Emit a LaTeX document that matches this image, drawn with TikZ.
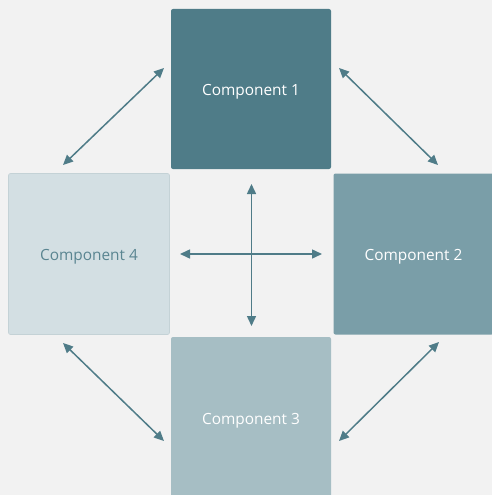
\documentclass[tikz,border=0pt]{standalone}
\usepackage{fontspec}
\setmainfont{Open Sans}
\usetikzlibrary{arrows.meta}
\definecolor{bg}{HTML}{F2F2F2}
\definecolor{cA}{HTML}{4F7C88}
\definecolor{cB}{HTML}{7A9EA8}
\definecolor{cC}{HTML}{A6BEC4}
\definecolor{cD}{HTML}{D3DFE3}
\definecolor{cDb}{HTML}{C4D2D6}
\definecolor{tD}{HTML}{5A8591}
\definecolor{arr}{HTML}{4F7C88}
\begin{document}
\begin{tikzpicture}[x=1pt,y=-1pt,
  comp/.style={rectangle,rounded corners=2pt,minimum width=160pt,minimum height=160pt,inner sep=0pt},
  lbl/.style={inner sep=0pt,font=\fontsize{15.4}{18}\selectfont,text=white},
  link/.style={draw=arr,line width=1.5pt,{Triangle[length=10pt,width=9pt]}-{Triangle[length=10pt,width=9pt]}}]
\useasboundingbox (0,0) rectangle (492,495);
\fill[bg] (0,0) rectangle (492,495);
\begin{scope}
\clip (0,0) rectangle (492,495);
\node[comp,fill=cA] (c1) at (251,89) {};
\node[comp,fill=cB,minimum width=160pt,minimum height=161pt] (c2) at (413.5,254) {};
\node[comp,fill=cC] (c3) at (251,417) {};
\node[comp,fill=cD,draw=cDb,line width=0.6pt,minimum width=161pt,minimum height=161pt] (c4) at (89,254) {};
\end{scope}
\node[lbl] (t1) at (251,91.5) {Component 1};
\node[lbl] (t2) at (413.5,256.5) {Component 2};
\node[lbl] (t3) at (251,420.5) {Component 3};
\node[lbl,text=tD] (t4) at (89,256.5) {Component 4};
\coordinate (a1) at (164,68);  \coordinate (b1) at (63,165);
\coordinate (a2) at (339,68);  \coordinate (b2) at (438,165);
\coordinate (a3) at (63,343);  \coordinate (b3) at (164,441);
\coordinate (a4) at (439,342); \coordinate (b4) at (339,441);
\coordinate (h1) at (180,254); \coordinate (h2) at (322,254);
\coordinate (v1) at (251.5,184); \coordinate (v2) at (251.5,326);
\draw[link] (a1) -- (b1);
\draw[link] (a2) -- (b2);
\draw[link] (a3) -- (b3);
\draw[link] (a4) -- (b4);
\draw[link] (h1) -- (h2);
\draw[link] (v1) -- (v2);
\end{tikzpicture}
\end{document}
